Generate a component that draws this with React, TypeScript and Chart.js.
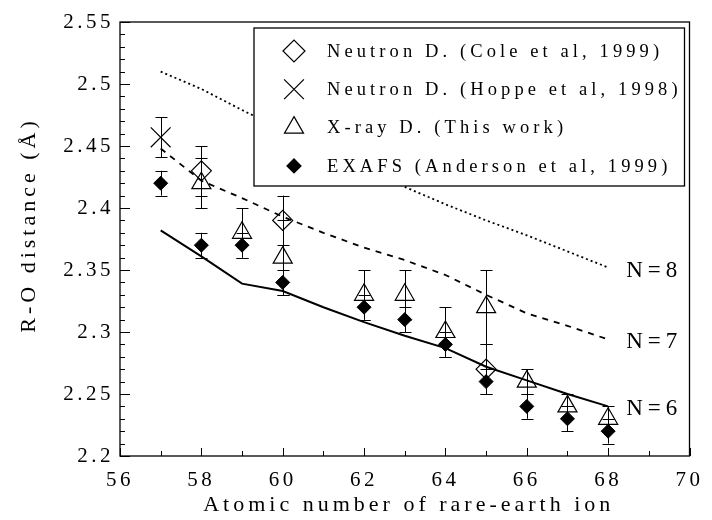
import React, { useEffect, useRef } from "react";
import { Chart, registerables } from "chart.js";

Chart.register(...registerables);

const FONT = "'Liberation Serif', 'Times New Roman', serif";

// Axis ranges
const X_MIN = 56;
const X_MAX = 70;
const X_STEP = 2;
const Y_MIN = 2.2;
const Y_MAX = 2.55;
const Y_STEP = 0.05;

const X_TITLE = "Atomic number of rare-earth ion";
const Y_TITLE = "R-O distance (Å)";

// Model curves (coordination number N)
const LINE_Z = [57, 58, 59, 60, 61, 62, 63, 64, 65, 66, 67, 68];
const N8 = [2.51, 2.496, 2.479, 2.463, 2.448, 2.432, 2.417, 2.403, 2.39, 2.378, 2.365, 2.352];
const N7 = [2.448, 2.422, 2.408, 2.393, 2.38, 2.368, 2.358, 2.346, 2.33, 2.315, 2.305, 2.294];
const N6 = [2.382, 2.361, 2.339, 2.333, 2.32, 2.308, 2.297, 2.287, 2.272, 2.261, 2.25, 2.24];

// Neutron D. (Cole et al, 1999)
const COLE_Z = [58, 60, 65];
const COLE_R = [2.43, 2.39, 2.27];
const COLE_ERR = [0.02, 0.02, 0.02];

// Neutron D. (Hoppe et al, 1998)
const HOPPE_Z = [57];
const HOPPE_R = [2.457];
const HOPPE_ERR = [0.016];

// X-ray D. (This work)
const XRAY_Z = [58, 59, 60, 62, 63, 64, 65, 66, 67, 68];
const XRAY_R = [2.42, 2.38, 2.36, 2.33, 2.33, 2.3, 2.32, 2.26, 2.24, 2.23];
const XRAY_ERR = [0.02, 0.02, 0.03, 0.02, 0.02, 0.02, 0.03, 0.01, 0.01, 0.01];

// EXAFS (Anderson et al, 1999)
const EXAFS_Z = [57, 58, 59, 60, 62, 63, 64, 65, 66, 67, 68];
const EXAFS_R = [2.42, 2.37, 2.37, 2.34, 2.32, 2.31, 2.29, 2.26, 2.24, 2.23, 2.22];
const EXAFS_ERR = [0.01, 0.01, 0.01, 0.01, 0.01, 0.01, 0.01, 0.01, 0.01, 0.01, 0.01];

const pts = (xs: number[], ys: number[]) => xs.map((x, i) => ({ x, y: ys[i] }));

function drawSymbol(ctx: CanvasRenderingContext2D, style: string, x: number, y: number, r: number, filled: boolean) {
  ctx.beginPath();
  if (style === "rectRot") {
    ctx.moveTo(x - r, y);
    ctx.lineTo(x, y - r);
    ctx.lineTo(x + r, y);
    ctx.lineTo(x, y + r);
    ctx.closePath();
  } else if (style === "triangle") {
    const a = -Math.PI / 2;
    for (let k = 0; k < 3; k++) {
      const ang = a + (k * 2 * Math.PI) / 3;
      const px = x + Math.cos(ang) * r;
      const py = y + Math.sin(ang) * r;
      if (k === 0) ctx.moveTo(px, py);
      else ctx.lineTo(px, py);
    }
    ctx.closePath();
  } else if (style === "crossRot") {
    const d = r * Math.SQRT1_2;
    ctx.moveTo(x - d, y - d);
    ctx.lineTo(x + d, y + d);
    ctx.moveTo(x + d, y - d);
    ctx.lineTo(x - d, y + d);
  }
  if (filled) {
    ctx.fillStyle = "#000";
    ctx.fill();
  }
  ctx.strokeStyle = "#000";
  ctx.lineWidth = 1.2;
  ctx.stroke();
}

const decor = {
  id: "decor",
  beforeDraw(chart: any) {
    chart.ctx.letterSpacing = "3.5px";
  },
  afterDraw(chart: any) {
    const ctx: CanvasRenderingContext2D = chart.ctx;
    const { left, right, top, bottom } = chart.chartArea;
    const xs = chart.scales.x;
    const ys = chart.scales.y;
    ctx.save();
    ctx.letterSpacing = "0px";

    // error bars
    chart.data.datasets.forEach((ds: any) => {
      if (!ds.errors) return;
      ctx.strokeStyle = "#000";
      ctx.lineWidth = 1;
      ds.data.forEach((p: any, j: number) => {
        const e = ds.errors[j];
        const px = Math.round(xs.getPixelForValue(p.x)) + 0.5;
        const y1 = ys.getPixelForValue(p.y + e);
        const y2 = ys.getPixelForValue(p.y - e);
        ctx.beginPath();
        ctx.moveTo(px, y1);
        ctx.lineTo(px, y2);
        ctx.moveTo(px - 6, Math.round(y1) + 0.5);
        ctx.lineTo(px + 6, Math.round(y1) + 0.5);
        ctx.moveTo(px - 6, Math.round(y2) + 0.5);
        ctx.lineTo(px + 6, Math.round(y2) + 0.5);
        ctx.stroke();
      });
    });

    // frame
    ctx.strokeStyle = "#000";
    ctx.lineWidth = 1.3;
    ctx.strokeRect(left, top, right - left, bottom - top);

    // inward ticks on left & bottom
    ctx.lineWidth = 1;
    ctx.beginPath();
    const yt = ys.ticks.map((t: any) => t.value);
    yt.forEach((v: number, k: number) => {
      const py = Math.round(ys.getPixelForValue(v)) + 0.5;
      ctx.moveTo(left, py);
      ctx.lineTo(left + 10, py);
      if (k < yt.length - 1) {
        const nv = yt[k + 1];
        for (let m = 1; m < 5; m++) {
          const mv = v + ((nv - v) * m) / 5;
          const my = Math.round(ys.getPixelForValue(mv)) + 0.5;
          ctx.moveTo(left, my);
          ctx.lineTo(left + 5, my);
        }
      }
    });
    const xt = xs.ticks.map((t: any) => t.value);
    xt.forEach((v: number, k: number) => {
      const px = Math.round(xs.getPixelForValue(v)) + 0.5;
      ctx.moveTo(px, bottom);
      ctx.lineTo(px, bottom - 8);
      if (k < xt.length - 1) {
        const mv = (v + xt[k + 1]) / 2;
        const mx = Math.round(xs.getPixelForValue(mv)) + 0.5;
        ctx.moveTo(mx, bottom);
        ctx.lineTo(mx, bottom - 5);
      }
    });
    ctx.stroke();

    // N labels at end of model curves
    ctx.fillStyle = "#000";
    ctx.font = `23px ${FONT}`;
    ctx.letterSpacing = "5px";
    ctx.textAlign = "left";
    ctx.textBaseline = "middle";
    const lastZ = LINE_Z[LINE_Z.length - 1];
    const lx = xs.getPixelForValue(lastZ) + 18;
    [
      { t: "N=8", v: N8[N8.length - 1] },
      { t: "N=7", v: N7[N7.length - 1] },
      { t: "N=6", v: N6[N6.length - 1] },
    ].forEach((o) => ctx.fillText(o.t, lx, ys.getPixelForValue(o.v) + 3));

    // legend box
    const bx = left + 134;
    const by = top + 6;
    const bw = right - 5 - bx;
    const bh = 158;
    ctx.fillStyle = "#fff";
    ctx.fillRect(bx, by, bw, bh);
    ctx.strokeStyle = "#000";
    ctx.lineWidth = 1.3;
    ctx.strokeRect(bx, by, bw, bh);
    const items = chart.data.datasets.filter((d: any) => d.inLegend);
    ctx.font = `18.5px ${FONT}`;
    ctx.letterSpacing = "4.1px";
    items.forEach((d: any, k: number) => {
      const cy = by + 23 + k * 38.3;
      drawSymbol(ctx, d.pointStyle, bx + 40, cy, d.legendR, d.filled);
      ctx.fillStyle = "#000";
      ctx.textAlign = "left";
      ctx.textBaseline = "middle";
      ctx.fillText(d.label, bx + 73, cy + 1);
    });

    // axis titles
    ctx.font = `22px ${FONT}`;
    ctx.letterSpacing = "4px";
    ctx.fillStyle = "#000";
    ctx.textAlign = "center";
    ctx.textBaseline = "middle";
    ctx.fillText(X_TITLE, (left + right) / 2 + 4, bottom + 49);
    ctx.save();
    ctx.translate(29, (top + bottom) / 2 - 14);
    ctx.rotate(-Math.PI / 2);
    ctx.fillText(Y_TITLE, 0, 0);
    ctx.restore();

    ctx.restore();
  },
};

export default function App() {
  const ref = useRef<HTMLCanvasElement>(null);
  useEffect(() => {
    document.body.style.margin = "0";
    const canvas = ref.current!;
    const hollow = "rgba(0,0,0,0)";
    const chart = new Chart(canvas, {
      type: "scatter",
      data: {
        datasets: [
          { label: "N=8", data: pts(LINE_Z, N8), showLine: true, borderColor: "#000", borderWidth: 1.8, borderDash: [2, 3], pointRadius: 0, fill: false } as any,
          { label: "N=7", data: pts(LINE_Z, N7), showLine: true, borderColor: "#000", borderWidth: 1.8, borderDash: [6, 6], pointRadius: 0, fill: false } as any,
          { label: "N=6", data: pts(LINE_Z, N6), showLine: true, borderColor: "#000", borderWidth: 2, pointRadius: 0, fill: false } as any,
          { label: "Neutron D. (Cole et al, 1999)", data: pts(COLE_Z, COLE_R), errors: COLE_ERR, inLegend: true, legendR: 11, filled: false, pointStyle: "rectRot", pointRadius: 10, pointBorderWidth: 1.2, borderColor: "#000", backgroundColor: hollow } as any,
          { label: "Neutron D. (Hoppe et al, 1998)", data: pts(HOPPE_Z, HOPPE_R), errors: HOPPE_ERR, inLegend: true, legendR: 14, filled: false, pointStyle: "crossRot", pointRadius: 14, pointBorderWidth: 1.2, borderColor: "#000", backgroundColor: hollow } as any,
          { label: "X-ray D. (This work)", data: pts(XRAY_Z, XRAY_R), errors: XRAY_ERR, inLegend: true, legendR: 11, filled: false, pointStyle: "triangle", pointRadius: 11, pointBorderWidth: 1.2, borderColor: "#000", backgroundColor: hollow } as any,
          { label: "EXAFS (Anderson et al, 1999)", data: pts(EXAFS_Z, EXAFS_R), errors: EXAFS_ERR, inLegend: true, legendR: 7, filled: true, pointStyle: "rectRot", pointRadius: 7, pointBorderWidth: 1, borderColor: "#000", backgroundColor: "#000" } as any,
        ],
      },
      options: {
        responsive: false,
        animation: false,
        events: [],
        layout: { padding: { top: 22, right: 14, left: 0, bottom: 0 } },
        plugins: { legend: { display: false }, tooltip: { enabled: false } },
        scales: {
          x: {
            type: "linear",
            min: X_MIN,
            max: X_MAX,
            grid: { display: false, drawTicks: false },
            border: { display: false },
            ticks: { stepSize: X_STEP, color: "#000", font: { family: FONT, size: 21 }, padding: 12, maxRotation: 0, autoSkip: false },
            afterFit: (s: any) => { s.height = 64; },
          },
          y: {
            type: "linear",
            min: Y_MIN,
            max: Y_MAX,
            grid: { display: false, drawTicks: false },
            border: { display: false },
            ticks: {
              stepSize: Y_STEP,
              color: "#000",
              font: { family: FONT, size: 21 },
              padding: 6,
              callback: (v: any) => String(Math.round(Number(v) * 100) / 100),
            },
            afterFit: (s: any) => { s.width = 120; },
          },
        },
      } as any,
      plugins: [decor],
    });
    return () => chart.destroy();
  }, []);
  return (
    <div style={{ width: 712, height: 520 }}>
      <canvas ref={ref} width={712} height={520} style={{ display: "block" }} />
    </div>
  );
}
